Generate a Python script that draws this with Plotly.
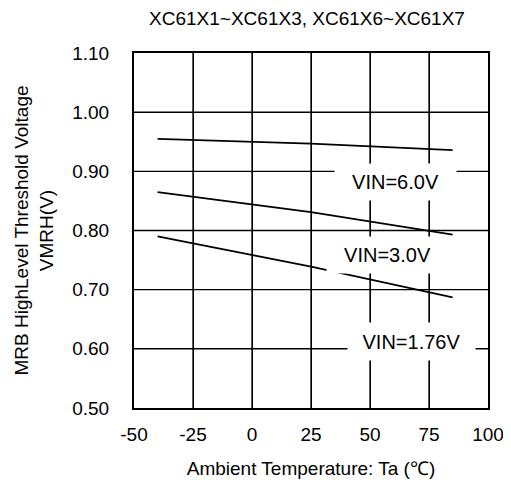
import plotly.graph_objects as go

# Data
temps = [-40, 25, 85]
vin_6_0 = [0.955, 0.947, 0.936]
vin_3_0 = [0.865, 0.831, 0.793]
vin_1_76 = [0.790, 0.739, 0.687]

x_ticks = [-50, -25, 0, 25, 50, 75, 100]
y_ticks = [0.50, 0.60, 0.70, 0.80, 0.90, 1.00, 1.10]

labels = ["VIN=6.0V", "VIN=3.0V", "VIN=1.76V"]
label_x = [60.7, 57.3, 67.5]
label_y = [0.8815, 0.7586, 0.6131]
label_w = [119, 119, 125]
label_h = [34, 34, 35]

FONT = "Liberation Sans, Arial, sans-serif"
W, H = 511, 490

fig = go.Figure()

# grid lines built from the tick lists (drawn as one trace below the data)
gx, gy = [], []
for xv in x_ticks[1:-1]:
    gx += [xv, xv, None]
    gy += [y_ticks[0], y_ticks[-1], None]
for yv in y_ticks[1:-1]:
    gx += [x_ticks[0], x_ticks[-1], None]
    gy += [yv, yv, None]
fig.add_trace(go.Scatter(x=gx, y=gy, mode="lines", line=dict(color="black", width=1.3),
                         showlegend=False, hoverinfo="skip", connectgaps=False))

for ys in (vin_6_0, vin_3_0, vin_1_76):
    fig.add_trace(go.Scatter(x=temps, y=ys, mode="lines",
                             line=dict(color="black", width=1.8),
                             showlegend=False, hoverinfo="skip"))

for t, lx, ly, w, h in zip(labels, label_x, label_y, label_w, label_h):
    fig.add_annotation(x=lx, y=ly, xref="x", yref="y", text=t, showarrow=False,
                       bgcolor="white", width=w, height=h,
                       font=dict(family=FONT, size=20, color="black"))

fig.update_layout(
    width=W, height=H,
    margin=dict(l=126, r=31, t=45, b=90, autoexpand=False),
    paper_bgcolor="white", plot_bgcolor="white",
    font=dict(family=FONT, size=19, color="black"),
    title=dict(text="XC61X1~XC61X3, XC61X6~XC61X7", x=299 / W, xanchor="center",
               y=1 - 10 / H, yanchor="middle",
               font=dict(family=FONT, size=19, color="black")),
    showlegend=False,
)
fig.update_xaxes(range=[-50, 100], tickvals=x_ticks, ticktext=[str(v) for v in x_ticks],
                 showgrid=True, gridcolor="#000000", gridwidth=1.3,
                 showline=True, linecolor="black", linewidth=2, mirror=True,
                 ticks="outside", ticklen=8, tickwidth=1, tickcolor="white",
                 zeroline=False, tickfont=dict(size=19), automargin=False,
                 title=dict(text="Ambient Temperature: Ta (℃)", font=dict(size=19), standoff=18))
fig.update_yaxes(range=[0.50, 1.10], tickvals=y_ticks, ticktext=[f"{v:.2f}" for v in y_ticks],
                 showgrid=True, gridcolor="#000000", gridwidth=1.3,
                 showline=True, linecolor="black", linewidth=2, mirror=True,
                 ticks="outside", ticklen=19, tickwidth=1, tickcolor="white",
                 zeroline=False, tickfont=dict(size=19), automargin=False,
                 title=dict(text="MRB HighLevel Threshold Voltage<br>VMRH(V)", font=dict(size=19), standoff=14))

fig.write_html("out.html")
